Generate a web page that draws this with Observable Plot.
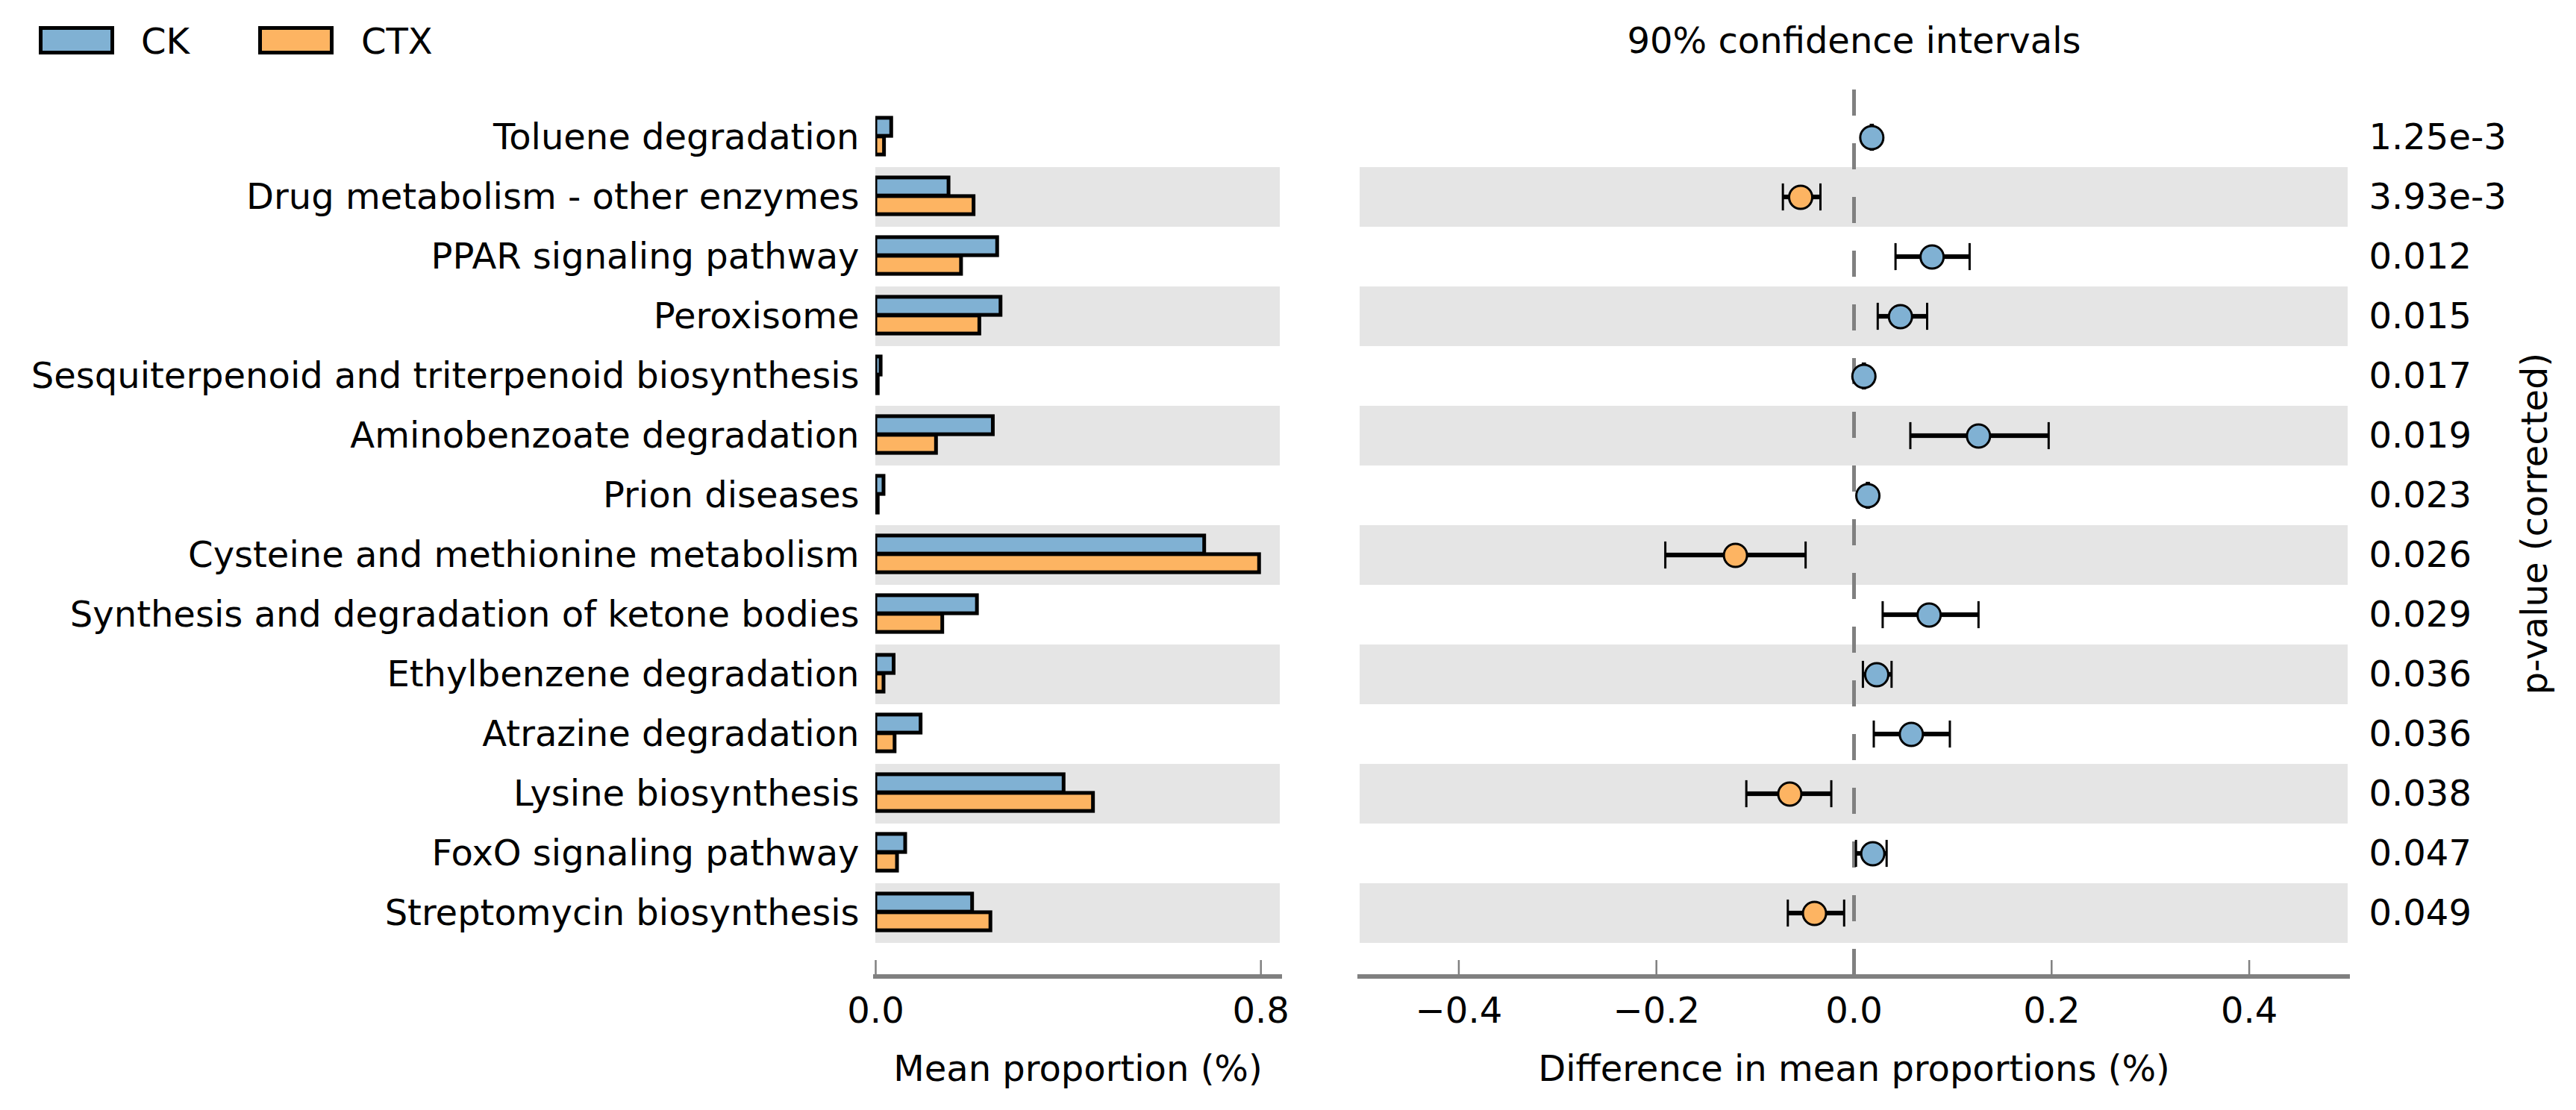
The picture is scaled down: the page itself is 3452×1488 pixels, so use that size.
<!DOCTYPE html>
<html>
<head>
<meta charset="utf-8">
<script src="https://cdn.jsdelivr.net/npm/d3@7"></script>
<script src="https://cdn.jsdelivr.net/npm/@observablehq/plot@0.6"></script>
<style>
  html, body { margin: 0; padding: 0; background: #fff; }
  #root { position: relative; width: 3452px; height: 1488px; overflow: hidden; font-family: "DejaVu Sans", sans-serif; }
  #root > svg { position: absolute; max-width: none; }
</style>
</head>
<body>
<div id="root"></div>
<script>
// ---------------- data ----------------
const categories = [
  "Toluene degradation",
  "Drug metabolism - other enzymes",
  "PPAR signaling pathway",
  "Peroxisome",
  "Sesquiterpenoid and triterpenoid biosynthesis",
  "Aminobenzoate degradation",
  "Prion diseases",
  "Cysteine and methionine metabolism",
  "Synthesis and degradation of ketone bodies",
  "Ethylbenzene degradation",
  "Atrazine degradation",
  "Lysine biosynthesis",
  "FoxO signaling pathway",
  "Streptomycin biosynthesis"
];
const groups = ["CK", "CTX"];
const meanCK  = [0.033, 0.152, 0.253, 0.260, 0.011, 0.244, 0.017, 0.683, 0.211, 0.038, 0.094, 0.391, 0.062, 0.201];
const meanCTX = [0.018, 0.204, 0.178, 0.216, 0.005, 0.126, 0.005, 0.797, 0.139, 0.017, 0.040, 0.452, 0.045, 0.239];
const diffMean = [0.018, -0.054, 0.079, 0.047, 0.010, 0.126, 0.014, -0.120, 0.076, 0.023, 0.058, -0.065, 0.019, -0.040];
const ciLow    = [0.017, -0.072, 0.042, 0.024, 0.009, 0.057, 0.013, -0.191, 0.029, 0.009, 0.020, -0.109, 0.002, -0.067];
const ciHigh   = [0.019, -0.034, 0.117, 0.074, 0.011, 0.197, 0.015, -0.049, 0.126, 0.038, 0.097, -0.023, 0.033, -0.010];
const pValues  = ["1.25e-3", "3.93e-3", "0.012", "0.015", "0.017", "0.019", "0.023", "0.026", "0.029", "0.036", "0.036", "0.038", "0.047", "0.049"];
const leftTicks  = [0.0, 0.8];
const rightTicks = [-0.4, -0.2, 0.0, 0.2, 0.4];
const leftDomain  = [0, 0.84];
const rightDomain = [-0.5, 0.5];

// ---------------- layout / style ----------------
const COLORS = {CK: "#80b1d3", CTX: "#fdb462"};
const BAND = "#e5e5e5";
const AXIS_GRAY = "#808080";
const FONT = 48;
const FAMILY = "DejaVu Sans, sans-serif";
const H = 1488;
const TOP = 138, ROWS_BOTTOM = 1269, AXIS_Y = 1309;
const frameH = AXIS_Y - TOP;
const bw = (ROWS_BOTTOM - TOP) / categories.length;
const half = bw / 2;
const fmt = d3.format(".1f");

const rows = categories.map((name, i) => ({
  name, i, ck: meanCK[i], ctx: meanCTX[i], diff: diffMean[i], lo: ciLow[i], hi: ciHigh[i], p: pValues[i]
}));
const shaded = rows.filter(d => d.i % 2 === 1);

const yScale = {domain: categories, range: [TOP, ROWS_BOTTOM], padding: 0, axis: null};
const svgStyle = {fontFamily: FAMILY, fontSize: FONT + "px", background: "none", color: "#000", overflow: "visible", maxWidth: "none"};

function axisMarks(domain, ticks, title) {
  return [
    Plot.rect([domain], {x1: d => d[0], x2: d => d[1], insetTop: frameH - 3, insetBottom: -3, insetLeft: -3, insetRight: -3, fill: AXIS_GRAY}),
    Plot.ruleX(ticks, {x: d => d, insetTop: frameH - 22, stroke: AXIS_GRAY, strokeWidth: 2.5}),
    Plot.text(ticks, {x: d => d, text: d => fmt(d), frameAnchor: "bottom", lineAnchor: "bottom", textAnchor: "middle", dy: 61, fontSize: FONT, fill: "#000"}),
    Plot.text([title], {text: d => d, frameAnchor: "bottom", lineAnchor: "bottom", textAnchor: "middle", dy: 139, fontSize: FONT, fill: "#000"})
  ];
}

// ---------------- left panel: mean proportions ----------------
const LEFT_X = 0, LEFT_W = 1740;
const left = Plot.plot({
  width: LEFT_W, height: H,
  marginLeft: 1173, marginRight: 25, marginTop: TOP, marginBottom: H - AXIS_Y,
  x: {domain: leftDomain, axis: null},
  y: yScale,
  style: svgStyle,
  marks: [
    Plot.barX(shaded, {x1: () => leftDomain[0], x2: () => leftDomain[1], y: "name", fill: BAND}),
    Plot.barX(rows, {x1: () => 0, x2: "ck", y: "name", fill: COLORS.CK, stroke: "#000", strokeWidth: 5,
      insetTop: half - 26.5, insetBottom: half + 1.5, clip: true}),
    Plot.barX(rows, {x1: () => 0, x2: "ctx", y: "name", fill: COLORS.CTX, stroke: "#000", strokeWidth: 5,
      insetTop: half - 1.5, insetBottom: half - 23.5, clip: true}),
    Plot.text(rows, {y: "name", text: "name", frameAnchor: "left", textAnchor: "end", lineAnchor: "middle", dx: -22, fontSize: FONT, fill: "#000"}),
    ...axisMarks(leftDomain, leftTicks, "Mean proportion (%)")
  ]
});
left.style.left = LEFT_X + "px";
left.style.top = "0px";

// ---------------- right panel: difference with CI ----------------
const RIGHT_X = 1760, RIGHT_W = 3452 - 1760;
const pos = rows.filter(d => d.diff >= 0);
const neg = rows.filter(d => d.diff < 0);
const right = Plot.plot({
  width: RIGHT_W, height: H,
  marginLeft: 1822 - RIGHT_X, marginRight: RIGHT_W - (3146 - RIGHT_X), marginTop: TOP, marginBottom: H - AXIS_Y,
  x: {domain: rightDomain, axis: null},
  y: yScale,
  style: svgStyle,
  marks: [
    Plot.barX(shaded, {x1: () => rightDomain[0], x2: () => rightDomain[1], y: "name", fill: BAND}),
    ...axisMarks(rightDomain, rightTicks, "Difference in mean proportions (%)"),
    Plot.ruleX([0], {x: d => d, insetTop: -18, stroke: AXIS_GRAY, strokeWidth: 5, strokeDasharray: "35,37"}),
    Plot.barX(rows, {x1: "lo", x2: "hi", y: "name", fill: "#000", insetTop: half - 3.5, insetBottom: half - 3.5}),
    Plot.tickX(rows, {x: "lo", y: "name", stroke: "#000", strokeWidth: 3, insetTop: half - 18.5, insetBottom: half - 18.5}),
    Plot.tickX(rows, {x: "hi", y: "name", stroke: "#000", strokeWidth: 3, insetTop: half - 18.5, insetBottom: half - 18.5}),
    Plot.dot(pos, {x: "diff", y: "name", r: 15.5, fill: COLORS.CK, stroke: "#000", strokeWidth: 3}),
    Plot.dot(neg, {x: "diff", y: "name", r: 15.5, fill: COLORS.CTX, stroke: "#000", strokeWidth: 3}),
    Plot.text(rows, {y: "name", text: "p", frameAnchor: "right", textAnchor: "start", lineAnchor: "middle", dx: 28, fontSize: FONT, fill: "#000"}),
    Plot.text(["90% confidence intervals"], {text: d => d, frameAnchor: "top", lineAnchor: "bottom", textAnchor: "middle", dy: 70 - TOP, fontSize: FONT, fill: "#000"})
  ]
});
right.style.left = RIGHT_X + "px";
right.style.top = "0px";

// ---------------- legend and side label (overlay) ----------------
const legendPos = [{key: "CK", box: 52, text: 189}, {key: "CTX", box: 346, text: 484}];
const overlay = d3.create("svg")
  .attr("width", 3452).attr("height", H)
  .style("position", "absolute").style("left", "0px").style("top", "0px")
  .style("pointer-events", "none")
  .style("font-family", FAMILY);
overlay.selectAll("rect").data(groups).join("rect")
  .attr("x", g => legendPos.find(p => p.key === g).box + 2.5)
  .attr("y", 37.5)
  .attr("width", 96).attr("height", 33)
  .attr("fill", g => COLORS[g]).attr("stroke", "#000").attr("stroke-width", 5);
overlay.selectAll("text.leg").data(groups).join("text")
  .attr("class", "leg")
  .attr("x", g => legendPos.find(p => p.key === g).text)
  .attr("y", 72)
  .attr("font-size", FONT)
  .attr("fill", "#000")
  .text(g => g);
overlay.append("text")
  .attr("transform", "translate(3413,702) rotate(-90)")
  .attr("text-anchor", "middle")
  .attr("font-size", FONT)
  .attr("fill", "#000")
  .text("p-value (corrected)");

const root = document.getElementById("root");
root.appendChild(left);
root.appendChild(right);
root.appendChild(overlay.node());
</script>
</body>
</html>
